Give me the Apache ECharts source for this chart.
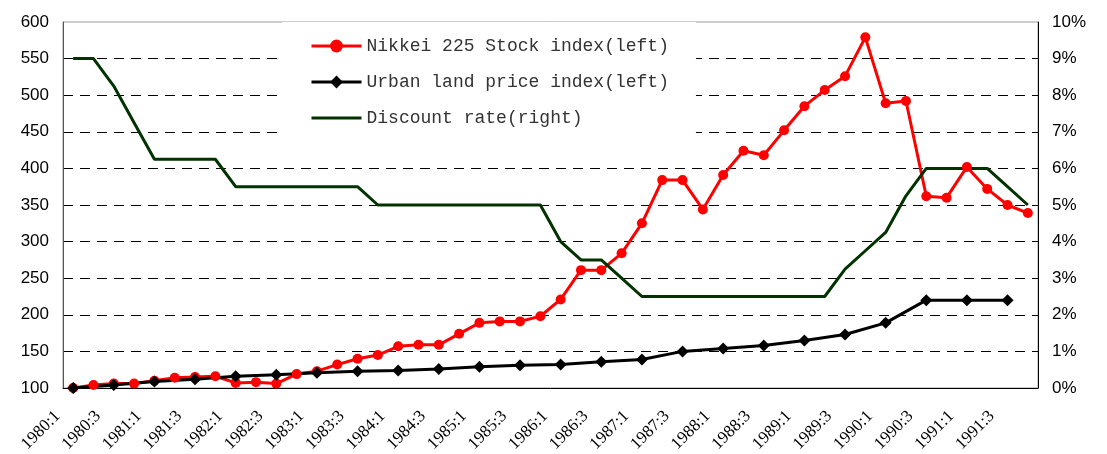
<!DOCTYPE html>
<html>
<head>
<meta charset="utf-8">
<script src="https://cdn.jsdelivr.net/npm/echarts@6/dist/echarts.min.js"></script>
<style>
  html, body { margin: 0; padding: 0; background: #fff; }
  #main-chart { width: 1107px; height: 454px; }
</style>
</head>
<body>
<div id="main-chart"></div>
<script>
// quarterly categories, 1980:1 - 1991:4
const categories = [
    '1980:1', '1980:2', '1980:3', '1980:4', '1981:1', '1981:2', '1981:3', '1981:4',
    '1982:1', '1982:2', '1982:3', '1982:4', '1983:1', '1983:2', '1983:3', '1983:4',
    '1984:1', '1984:2', '1984:3', '1984:4', '1985:1', '1985:2', '1985:3', '1985:4',
    '1986:1', '1986:2', '1986:3', '1986:4', '1987:1', '1987:2', '1987:3', '1987:4',
    '1988:1', '1988:2', '1988:3', '1988:4', '1989:1', '1989:2', '1989:3', '1989:4',
    '1990:1', '1990:2', '1990:3', '1990:4', '1991:1', '1991:2', '1991:3', '1991:4'
];

// Nikkei 225 (left axis)
const nikkei = [
    100, 104, 106, 106, 110, 114, 115, 116, 107, 108, 106, 119,
    123, 132, 140, 145, 157, 159, 159, 174, 189, 191, 191, 198,
    221, 261, 261, 284, 325, 384, 384, 344, 391, 424, 418, 452,
    485, 507, 526, 579, 489, 492, 362, 360, 402, 372, 350, 339
];

// urban land price (left axis), half-yearly
const landPrice = [
    100, null, 104, null, 109, null, 112, null, 116, null, 118, null,
    121, null, 123, null, 124, null, 126, null, 129, null, 131, null,
    132, null, 136, null, 139, null, 150, null, 154, null, 158, null,
    165, null, 173, null, 189, null, 220, null, 220, null, 220, null
];

// discount rate % (right axis)
const discountRate = [
    9, 9, 8.25, 7.25, 6.25, 6.25, 6.25, 6.25, 5.5, 5.5, 5.5, 5.5,
    5.5, 5.5, 5.5, 5, 5, 5, 5, 5, 5, 5, 5, 5,
    4, 3.5, 3.5, 3, 2.5, 2.5, 2.5, 2.5, 2.5, 2.5, 2.5, 2.5,
    2.5, 2.5, 3.25, 3.75, 4.25, 5.25, 6, 6, 6, 6, 5.5, 5
];

const seriesNames = ['Nikkei 225 Stock index(left)', 'Urban land price index(left)', 'Discount rate(right)'];

const chart = echarts.init(document.getElementById('main-chart'));
const axisFont = { fontFamily: 'Liberation Sans', color: '#000' };

chart.setOption({
    backgroundColor: '#fff',
    animation: false,
    grid: {
        left: 63, right: 69, top: 22, bottom: 66,
        outerBoundsMode: 'none',
        show: true, borderColor: '#999', borderWidth: 1
    },
    legend: {
        orient: 'vertical',
        left: 282,
        top: 22,
        padding: [14, 27, 14, 28],
        backgroundColor: '#fff',
        itemWidth: 50,
        itemHeight: 16,
        itemGap: 16,
        lineStyle: { width: 3 },
        textStyle: { fontFamily: 'Liberation Mono', fontSize: 18, lineHeight: 20, color: '#333' },
        data: [
            seriesNames[0],
            seriesNames[1],
            { name: seriesNames[2], itemStyle: { opacity: 0 } }
        ]
    },
    xAxis: {
        type: 'category',
        data: categories,
        boundaryGap: true,
        axisLine: { lineStyle: { color: '#000', width: 1 } },
        axisTick: { interval: 0, inside: true, length: 5, lineStyle: { color: '#000' } },
        axisLabel: {
            fontFamily: 'Liberation Serif', color: '#000', fontSize: 17,
            interval: 1, rotate: 45, margin: 10, padding: [0, 22, 0, 0]
        }
    },
    yAxis: [
        {
            type: 'value',
            min: 100, max: 600, interval: 50,
            axisLine: { show: true, lineStyle: { color: '#555' } },
            axisTick: { show: false },
            axisLabel: { ...axisFont, fontSize: 17, margin: 14 },
            splitLine: {
                showMinLine: false, showMaxLine: false,
                lineStyle: { color: '#000', type: [10, 7], width: 1 }
            }
        },
        {
            type: 'value',
            min: 0, max: 10, interval: 1,
            axisLine: { show: true, lineStyle: { color: '#000' } },
            axisTick: { show: false },
            axisLabel: { ...axisFont, fontSize: 17, margin: 14, formatter: '{value}%' },
            splitLine: { show: false }
        }
    ],
    series: [
        {
            name: seriesNames[0],
            type: 'line',
            data: nikkei,
            symbol: 'circle',
            symbolSize: 10,
            lineStyle: { color: '#ff0000', width: 3 },
            itemStyle: { color: '#ff0000' }
        },
        {
            name: seriesNames[1],
            type: 'line',
            data: landPrice,
            connectNulls: true,
            symbol: 'diamond',
            symbolSize: 12,
            lineStyle: { color: '#000', width: 3 },
            itemStyle: { color: '#000' }
        },
        {
            name: seriesNames[2],
            type: 'line',
            yAxisIndex: 1,
            data: discountRate,
            symbol: 'none',
            lineStyle: { color: '#003300', width: 3 },
            itemStyle: { color: '#003300' }
        }
    ]
});
</script>
</body>
</html>
